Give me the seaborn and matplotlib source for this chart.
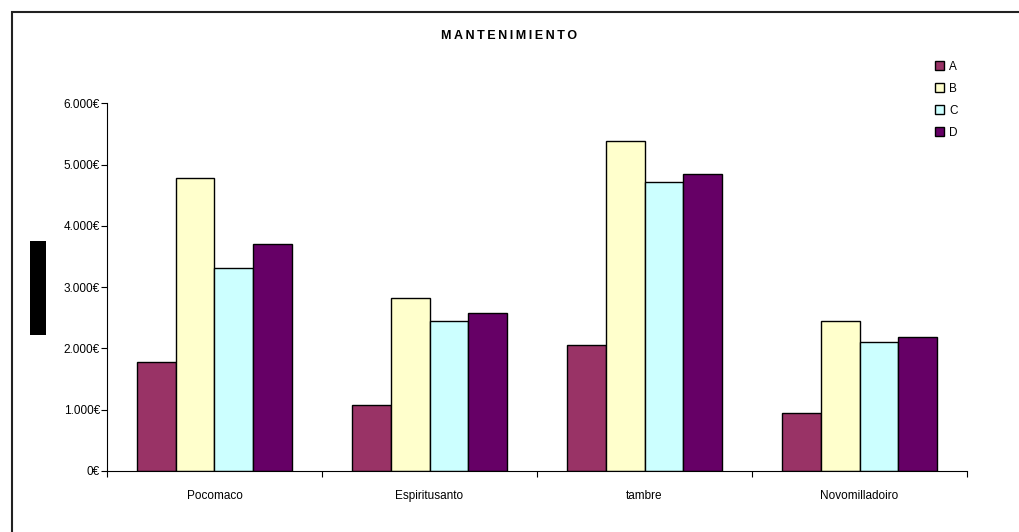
import matplotlib
matplotlib.use('Agg')
import matplotlib.pyplot as plt
import seaborn as sns
import pandas as pd
from matplotlib.patches import Rectangle
from matplotlib.ticker import FuncFormatter

# Datos
centros = ['Pocomaco', 'Espiritusanto', 'tambre', 'Novomilladoiro']
series = ['A', 'B', 'C', 'D']
valores_a = [1780, 1070, 2050, 940]
valores_b = [4780, 2830, 5390, 2440]
valores_c = [3310, 2440, 4720, 2110]
valores_d = [3710, 2570, 4840, 2180]
colores = ['#993366', '#FFFFCC', '#CCFFFF', '#660066']

# Tabla larga para seaborn
filas = []
for serie, vals in zip(series, [valores_a, valores_b, valores_c, valores_d]):
    for centro, v in zip(centros, vals):
        filas.append({'centro': centro, 'serie': serie, 'valor': v})
datos = pd.DataFrame(filas)

sns.set_theme(style='white')
plt.rcParams['font.family'] = ['Liberation Sans', 'DejaVu Sans']
plt.rcParams['text.color'] = 'black'
plt.rcParams['xtick.color'] = 'black'
plt.rcParams['ytick.color'] = 'black'
plt.rcParams['xtick.labelcolor'] = 'black'
plt.rcParams['ytick.labelcolor'] = 'black'

fig = plt.figure(figsize=(10.19, 5.32), dpi=100)
ax = fig.add_axes([0.105, 0.1147, 0.844, 0.6913])

sns.barplot(data=datos, x='centro', y='valor', hue='serie', order=centros,
            hue_order=series, palette=colores, width=0.72, edgecolor='black',
            linewidth=1.0, saturation=1, ax=ax)

ax.set_ylim(0, 6000)
ax.set_xlim(-0.5, 3.5)
ax.set_yticks(range(0, 6001, 1000))
ax.yaxis.set_major_formatter(FuncFormatter(
    lambda v, p: '0€' if v == 0 else f'{int(v):,}€'.replace(',', '.')))
ax.set_xlabel('')
ax.set_ylabel('')

# Marcas del eje X entre categorías
ax.set_xticks([-0.5, 0.5, 1.5, 2.5, 3.5], minor=True)
ax.tick_params(axis='x', which='major', length=0, labelsize=8.5, pad=14)
ax.tick_params(axis='x', which='minor', length=4, width=0.8, color='black', direction='out', bottom=True)
ax.tick_params(axis='y', length=4, width=0.8, color='black', direction='out', left=True, labelsize=8.5, pad=1)
for lado in ['top', 'right']:
    ax.spines[lado].set_visible(False)
for lado in ['left', 'bottom']:
    ax.spines[lado].set_color('black')
    ax.spines[lado].set_linewidth(0.8)

ax.legend(loc='upper left', bbox_to_anchor=(0.957, 1.128), frameon=False,
          fontsize=8.5, handlelength=0.8, handleheight=0.8, handletextpad=0.4,
          labelspacing=0.85, borderaxespad=0)

fig.text(0.5, 0.932, '\u2009'.join('MANTENIMIENTO'), ha='center', va='center',
         fontsize=9, fontweight='bold')

# Marco exterior y bloque negro del eje Y
fig.patches.append(Rectangle((12 / 1019, -0.1), 1.2, 0.1 + (532 - 12) / 532,
                             transform=fig.transFigure, fill=False,
                             edgecolor='#222222', linewidth=1.5))
fig.patches.append(Rectangle((30 / 1019, (532 - 335) / 532), 16 / 1019, 94 / 532,
                             transform=fig.transFigure, facecolor='black',
                             edgecolor='none'))

fig.savefig('out.png', dpi=100, facecolor='white')
